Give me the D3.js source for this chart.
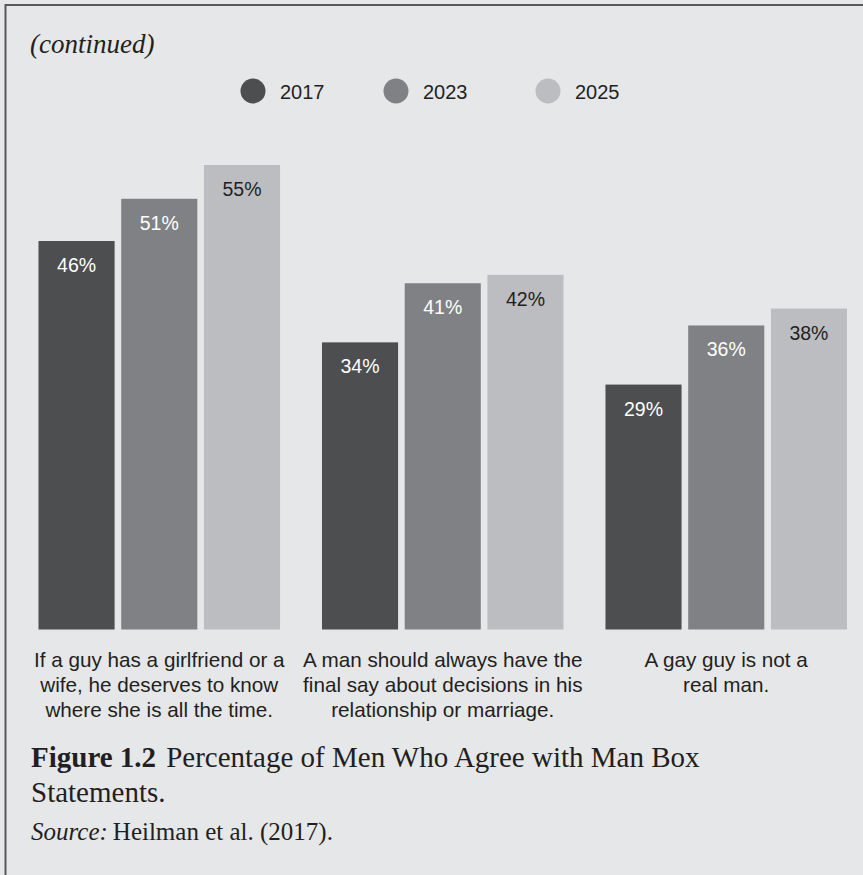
<!DOCTYPE html>
<html>
<head>
<meta charset="utf-8">
<script src="https://cdn.jsdelivr.net/npm/d3@7"></script>
<style>
  html, body { margin: 0; padding: 0; background: #e6e7e8; }
  svg { display: block; }
</style>
</head>
<body>
<svg id="chart" width="863" height="875"></svg>
<script>
const categories = [
  ["If a guy has a girlfriend or a", "wife, he deserves to know", "where she is all the time."],
  ["A man should always have the", "final say about decisions in his", "relationship or marriage."],
  ["A gay guy is not a", "real man."]
];
const years = ["2017", "2023", "2025"];
const values2017 = [46, 34, 29];
const values2023 = [51, 41, 36];
const values2025 = [55, 42, 38];
const colors = ["#4d4e50", "#808184", "#bcbdc0"];
const labelColors = ["#ffffff", "#ffffff", "#231f20"];
const series = [values2017, values2023, values2025];

const svg = d3.select("#chart");
const W = 863, H = 875;

svg.append("rect").attr("width", W).attr("height", H).attr("fill", "#e6e7e8");
// frame (top + left)
svg.append("path").attr("d", `M5.5,${H} L5.5,5 L${W},5`)
  .attr("fill", "none").attr("stroke", "#58595b").attr("stroke-width", 2);

// "(continued)"
svg.append("text").attr("x", 30).attr("y", 53)
  .attr("font-family", "Liberation Serif, serif").attr("font-style", "italic")
  .attr("font-size", 27).attr("fill", "#231f20").text("(continued)");

// legend
const legendX = [253, 396, 548];
const lg = svg.append("g");
years.forEach((yr, i) => {
  lg.append("circle").attr("cx", legendX[i]).attr("cy", 91).attr("r", 12.5).attr("fill", colors[i]);
  lg.append("text").attr("x", legendX[i] + 27).attr("y", 98.5)
    .attr("font-family", "Liberation Sans, Arial, sans-serif").attr("font-size", 20)
    .attr("fill", "#231f20").text(yr);
});

// scales
const catIdx = categories.map((c, i) => i);
const x0 = d3.scaleBand().domain(catIdx).range([38.5, 847]).paddingInner(0.148).paddingOuter(0);
const x1 = d3.scaleBand().domain(years).range([0, x0.bandwidth()]).paddingInner(0.08).paddingOuter(0);
const y = d3.scaleLinear().domain([0, 55]).range([629.5, 165]);

const groups = svg.append("g").selectAll("g").data(catIdx).join("g")
  .attr("transform", d => `translate(${x0(d)},0)`);

groups.selectAll("rect").data(ci => years.map((yr, si) => ({yr, si, v: series[si][ci]})))
  .join("rect")
  .attr("x", d => x1(d.yr)).attr("width", x1.bandwidth())
  .attr("y", d => y(d.v)).attr("height", d => y(0) - y(d.v))
  .attr("fill", d => colors[d.si]);

groups.selectAll("text.val").data(ci => years.map((yr, si) => ({yr, si, v: series[si][ci]})))
  .join("text").attr("class", "val")
  .attr("x", d => x1(d.yr) + x1.bandwidth() / 2).attr("y", d => y(d.v) + 31)
  .attr("text-anchor", "middle")
  .attr("font-family", "Liberation Sans, Arial, sans-serif").attr("font-size", 19.5)
  .attr("fill", d => labelColors[d.si]).text(d => d.v + "%");

// category labels
groups.append("text")
  .attr("text-anchor", "middle")
  .attr("font-family", "Liberation Sans, Arial, sans-serif").attr("font-size", 20.7)
  .attr("fill", "#231f20")
  .each(function(ci) {
    const t = d3.select(this);
    categories[ci].forEach((line, li) => {
      t.append("tspan").attr("x", x0.bandwidth() / 2).attr("y", 667 + li * 25).text(line);
    });
  });

// caption
const cap = svg.append("text").attr("x", 31).attr("y", 767)
  .attr("font-family", "Liberation Serif, serif").attr("font-size", 29).attr("fill", "#231f20");
cap.append("tspan").attr("font-weight", "bold").text("Figure 1.2");
cap.append("tspan").attr("dx", 10).text("Percentage of Men Who Agree with Man Box");
svg.append("text").attr("x", 31).attr("y", 802)
  .attr("font-family", "Liberation Serif, serif").attr("font-size", 29).attr("fill", "#231f20")
  .text("Statements.");
const src = svg.append("text").attr("x", 31).attr("y", 840)
  .attr("font-family", "Liberation Serif, serif").attr("font-size", 25).attr("fill", "#231f20");
src.append("tspan").attr("font-style", "italic").text("Source:");
src.append("tspan").attr("dx", 5).text("Heilman et al. (2017).");
</script>
</body>
</html>
